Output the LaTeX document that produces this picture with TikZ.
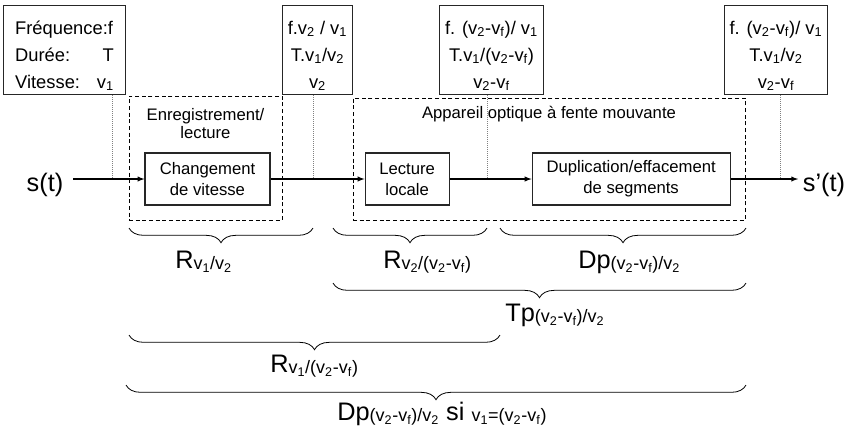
\documentclass[tikz,border=0pt]{standalone}
\usepackage{fontspec}
\setmainfont{Liberation Sans}
\usetikzlibrary{arrows, positioning, decorations.pathreplacing}
\newcommand{\vsub}[1]{v\textsubscript{#1}}
\newcommand{\ind}[1]{\raisebox{-1.2pt}{\fontsize{13.5}{14}\selectfont #1}}
\newcommand{\lhaut}{\rule{0pt}{21.4pt}}
\newcommand{\lbas}{\rule[-4.9pt]{0pt}{4.9pt}}

\begin{document}
\begin{tikzpicture}[x=0.75pt, y=-0.75pt, >=latex,
  bloc/.style={draw=black!85, line width=0.8pt, align=center, minimum height=39pt, font=\fontsize{12.5}{15.75}\selectfont},
  info/.style={draw=black!85, line width=0.8pt, align=center, anchor=north, inner ysep=0pt, inner xsep=4pt,
    font=\fontsize{13.75}{20.25}\selectfont},
  cadre/.style={draw, dash pattern=on 3pt off 2pt, line width=0.7pt},
  titre/.style={align=center, font=\fontsize{12.5}{13.5}\selectfont},
  repere/.style={gray, densely dotted, line width=0.5pt},
  accol/.style={decorate, decoration={brace, mirror, amplitude=11pt}, line width=0.6pt},
  formule/.style={anchor=base west, inner sep=0pt, font=\fontsize{19}{21}\selectfont},
  signal/.style={font=\fontsize{19}{21}\selectfont}]
\useasboundingbox (0,0) rectangle (859,430);

\node[cadre, minimum width=114.75pt, minimum height=93pt] (enr) at (205.5,158) {};
\node[cadre, minimum width=294pt, minimum height=91.5pt] (app) at (549,159) {};
\node[titre] (tenr) at (205.5,124) {Enregistrement/\\lecture};
\node[titre] (tapp) at (549,114) {Appareil optique à fente mouvante};

\node[bloc, minimum width=93.75pt] (chg) at (207.5,179) {Changement\\de vitesse};
\node[bloc, minimum width=63pt, right=70.5pt of chg] (lec) {Lecture\\locale};
\node[bloc, minimum width=148.5pt, right=61.5pt of lec] (dup) {Duplication/effacement\\de segments};

\node[signal] (st) at (45,185) {s(t)};
\node[signal] (sp) at (824,185) {s'(t)};

\node[info, text width=74pt, align=left, inner xsep=9pt] (i1) at (64.5,5) {\lhaut Fréquence:f\\Durée:\hfill T\\Vitesse:\hfill \vsub{1}\lbas};
\node[info, minimum width=47.25pt] (i2) at (317.5,5) {\lhaut f.\vsub{2} / \vsub{1}\\T.\vsub{1}/\vsub{2}\\\vsub{2}\lbas};
\node[info, minimum width=74.25pt] (i3) at (491.5,5) {\lhaut f. (\vsub{2}-\vsub{f})/ \vsub{1}\\T.\vsub{1}/(\vsub{2}-\vsub{f})\\\vsub{2}-\vsub{f}\lbas};
\node[info, minimum width=73.5pt] (i4) at (776,5) {\lhaut f. (\vsub{2}-\vsub{f})/ \vsub{1}\\T.\vsub{1}/\vsub{2}\\\vsub{2}-\vsub{f}\lbas};

\coordinate (p1) at (112,179);
\coordinate (p2) at (313,179);
\coordinate (p3) at (487,179);
\coordinate (p4) at (780,179);
\draw[repere] (i1.south -| p1) -- (p1);
\draw[repere] (i2.south -| p2) -- (p2);
\draw[repere] (i3.south -| p3) -- (p3);
\draw[repere] (i4.south -| p4) -- (p4);

\draw[->, line width=0.8pt, shorten <=4pt] (st.east |- chg) -- (chg);
\path[->, line width=0.8pt] (chg) edge (lec);
\path[->, line width=0.8pt] (lec) edge (dup);
\draw[->, line width=0.8pt] (dup) -- (dup -| sp.west);

\draw[accol] (129,228) -- (313,228);
\draw[accol] (333,228) -- (487,228);
\draw[accol] (500,228) -- (746,228);
\draw[accol] (333,283) -- (746,283);
\draw[accol] (129,335) -- (500,335);
\draw[accol] (126,385) -- (746,385);

\node[formule] (r1) at (175,268) {R\ind{\vsub{1}/\vsub{2}}};
\node[formule] (r2) at (383,268) {R\ind{\vsub{2}/(\vsub{2}-\vsub{f})}};
\node[formule] (d1) at (578,268) {Dp\ind{(\vsub{2}-\vsub{f})/\vsub{2}}};
\node[formule] (t1) at (505,321) {Tp\ind{(\vsub{2}-\vsub{f})/\vsub{2}}};
\node[formule] (r3) at (270,372) {R\ind{\vsub{1}/(\vsub{2}-\vsub{f})}};
\node[formule] (d2) at (337,420) {Dp\ind{(\vsub{2}-\vsub{f})/\vsub{2}} si \ind{\vsub{1}=(\vsub{2}-\vsub{f})}};
\end{tikzpicture}
\end{document}
